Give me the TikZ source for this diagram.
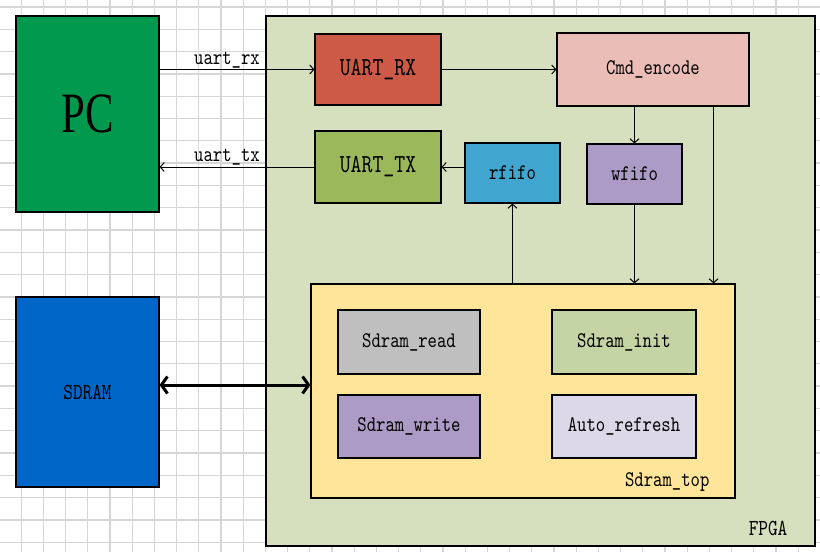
\documentclass[tikz,border=0pt]{standalone}
\usepackage{fontspec}
\setmainfont{Liberation Serif}
\newfontfamily\pcfont[FakeStretch=0.75]{Liberation Serif}
\newfontfamily\boxfont[FakeStretch=0.8]{lmmono10-regular.otf}
\usepackage{tikz}
\usetikzlibrary{arrows.meta,calc}

\definecolor{gridgray}{RGB}{214,214,214}
\definecolor{pcgreen}{RGB}{0,153,78}
\definecolor{fpgaolive}{RGB}{215,224,190}
\definecolor{rxred}{RGB}{205,90,70}
\definecolor{txgreen}{RGB}{155,185,90}
\definecolor{cmdpink}{RGB}{234,189,182}
\definecolor{rfifoblue}{RGB}{64,165,207}
\definecolor{wfifopurple}{RGB}{171,155,198}
\definecolor{topyellow}{RGB}{255,229,153}
\definecolor{readgray}{RGB}{191,191,191}
\definecolor{initgreen}{RGB}{197,212,164}
\definecolor{autolilac}{RGB}{221,216,232}
\definecolor{sdramblue}{RGB}{0,102,200}

\begin{document}
\begin{tikzpicture}
  [x=1pt,y=-1pt,
   gridline/.style={gridgray, line width=1.3pt},
   block/.style={draw=black, line width=1.2pt, inner sep=0pt,
     font=\boxfont\fontsize{22.3}{25}\selectfont},
   bigtext/.style={font=\boxfont\fontsize{26}{29}\selectfont},
   tag/.style={inner sep=1pt, font=\boxfont\fontsize{22.3}{25}\selectfont},
   wire/.style={line width=1pt, -{Straight Barb[length=4pt,width=9pt]}},
   bus/.style={line width=3pt,
     {Straight Barb[length=6pt,width=17pt]}-{Straight Barb[length=6pt,width=17pt]}}]

  \useasboundingbox (0,0) rectangle (820,552);
  \fill[white] (0,0) rectangle (820,552);

  % background grid
  \foreach \i in {0,...,37}
    \draw[gridline] ({-1+22.2*\i},0) -- ++(0,552);
  \foreach \j in {0,...,24}
    \draw[gridline] (0,{7+22.3*\j}) -- ++(820,0);

  % outer blocks
  \node [block, fill=pcgreen, minimum width=143pt, minimum height=196pt,
    font=\pcfont\fontsize{57}{60}\selectfont] (PC) at (87.5,114) {PC};
  \node [block, fill=sdramblue, minimum width=143pt, minimum height=190pt,
    font=\boxfont\fontsize{23}{26}\selectfont] (SDRAM) at (87.5,392) {SDRAM};
  \node [block, fill=fpgaolive, minimum width=549pt, minimum height=530pt] (FPGA) at (540.5,281) {};

  % inside the FPGA
  \node [block, bigtext, fill=rxred, minimum width=126pt, minimum height=71pt] (RX) at (378,69.5) {UART\_RX};
  \node [block, bigtext, fill=txgreen, minimum width=126pt, minimum height=72pt] (TX) at (378,167) {UART\_TX};
  \node [block, fill=cmdpink, minimum width=192pt, minimum height=73pt] (cmd) at (653,69.5) {Cmd\_encode};
  \node [block, fill=rfifoblue, minimum width=95pt, minimum height=60pt] (rfifo) at (512.5,173) {rfifo};
  \node [block, fill=wfifopurple, minimum width=95pt, minimum height=60pt] (wfifo) at (634.5,174) {wfifo};

  \node [block, fill=topyellow, minimum width=424pt, minimum height=214pt] (top) at (523,391) {};
  \node [block, fill=readgray, minimum width=142pt, minimum height=64pt] (read) at (409,342) {Sdram\_read};
  \node [block, fill=wfifopurple, minimum width=142pt, minimum height=63pt] (write) at (409,426.5) {Sdram\_write};
  \node [block, fill=initgreen, minimum width=144pt, minimum height=64pt] (init) at (624,342) {Sdram\_init};
  \node [block, fill=autolilac, minimum width=144pt, minimum height=63pt] (auto) at (624,426.5) {Auto\_refresh};

  \node [tag, anchor=base east] (toplbl) at ($(top.south east)+(-25,-12)$) {Sdram\_top};
  \node [tag, anchor=base east, font=\boxfont\fontsize{23}{26}\selectfont] (fpgalbl) at ($(FPGA.south east)+(-27,-11)$) {FPGA};

  % connections
  \coordinate (cmdtap) at ($(cmd.south east)+(-36,0)$);
  \coordinate (busL) at ([yshift=7pt]SDRAM.east);

  \draw [wire] (PC.east |- RX.west) -- node [tag, above, xshift=-10pt] {uart\_rx} (RX.west);
  \draw [wire] (TX.west) -- node [tag, above, xshift=-10pt] {uart\_tx} (TX.west -| PC.east);
  \draw [wire] (RX.east) -- (RX.east -| cmd.west);
  \draw [wire] (TX.east -| rfifo.west) -- (TX.east);
  \draw [wire] (cmd.south -| wfifo.north) -- (wfifo.north);
  \draw [wire] (cmdtap) -- (cmdtap |- top.north);
  \draw [wire] (wfifo.south) -- (wfifo.south |- top.north);
  \draw [wire] (rfifo.south |- top.north) -- (rfifo.south);
  \draw [bus] (busL) -- (busL -| top.west);

\end{tikzpicture}
\end{document}
